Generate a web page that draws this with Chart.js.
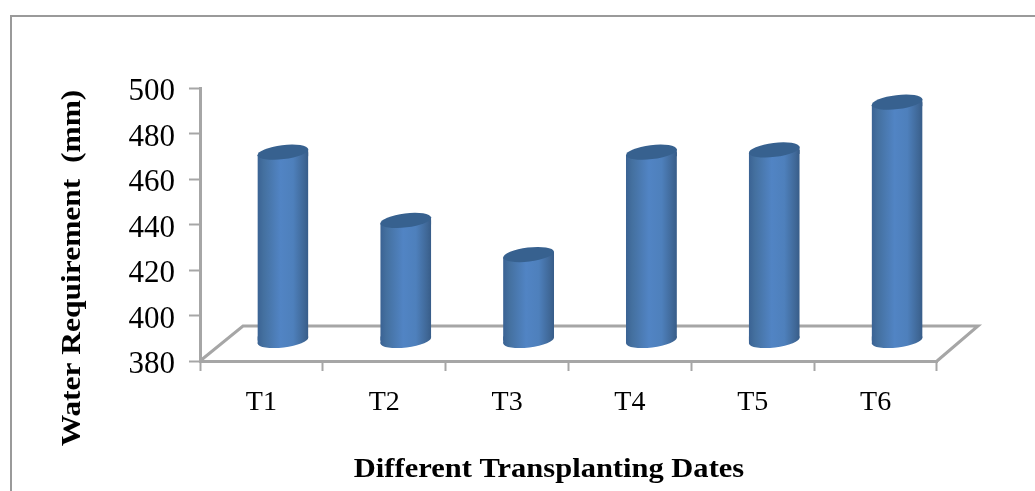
<!DOCTYPE html>
<html>
<head>
<meta charset="utf-8">
<title>Water Requirement</title>
<script src="https://cdn.jsdelivr.net/npm/chart.js@4"></script>
<style>
  html, body { margin: 0; padding: 0; background: #fff; }
  #box { width: 1035px; height: 491px; overflow: hidden; }
  canvas { filter: blur(0.5px); }
</style>
</head>
<body>
<div id="box"><canvas id="aguaChart" width="1035" height="491"></canvas></div>
<script>
const categorias = ['T1', 'T2', 'T3', 'T4', 'T5', 'T6'];
const valores = [463, 433, 418, 463, 464, 485];
const minimo = 380, maximo = 500, paso = 20;
const tituloX = 'Different Transplanting Dates';
const tituloY = 'Water Requirement  (mm)';

const gris = '#a6a6a6';
const anchoBarra = 0.415;
const fondoX = 21.5, fondoY = 20; // desplazamiento de los cilindros hacia el fondo
const pisoX = 41, pisoY = 35; // profundidad del piso 3D
const giro = -0.12; // inclinacion de las elipses

function gradienteBarra(ctx, x, ancho) {
  const g = ctx.createLinearGradient(x - ancho / 2, 0, x + ancho / 2, 0);
  g.addColorStop(0, '#3a6293');
  g.addColorStop(0.12, '#44709f');
  g.addColorStop(0.45, '#5184c4');
  g.addColorStop(0.7, '#4e80bc');
  g.addColorStop(0.92, '#3f6796');
  g.addColorStop(1, '#375c88');
  return g;
}

// Plugin para el efecto 3D: marco, piso, cilindros y titulos
const efecto3d = {
  id: 'efecto3d',
  beforeDraw(chart) {
    const ctx = chart.ctx;
    ctx.save();
    ctx.strokeStyle = '#9a9a9a';
    ctx.lineWidth = 2;
    ctx.beginPath();
    ctx.moveTo(11, 491);
    ctx.lineTo(11, 16);
    ctx.lineTo(1035, 16);
    ctx.stroke();
    ctx.restore();
  },
  beforeDatasetsDraw(chart) {
    const ctx = chart.ctx;
    const { left, right, bottom } = chart.chartArea;
    ctx.save();
    ctx.strokeStyle = gris;
    ctx.lineWidth = 3;
    ctx.beginPath();
    ctx.moveTo(left, bottom);
    ctx.lineTo(left + pisoX + 2, bottom - pisoY);
    ctx.lineTo(right + pisoX, bottom - pisoY);
    ctx.lineTo(right, bottom);
    ctx.stroke();
    ctx.restore();

    // base de cada cilindro, luego las barras quedan movidas hacia el fondo
    const barras = chart.getDatasetMeta(0).data;
    ctx.save();
    ctx.translate(fondoX, -fondoY);
    barras.forEach(bar => {
      ctx.fillStyle = gradienteBarra(ctx, bar.x, bar.width);
      ctx.beginPath();
      ctx.ellipse(bar.x, bar.base, bar.width / 2, 7, giro, 0, Math.PI * 2);
      ctx.fill();
    });
    // recorte inclinado para que las esquinas de la barra no salgan de la elipse
    ctx.save();
    ctx.beginPath();
    barras.forEach(bar => {
      const k = (bar.width / 2) * Math.tan(-giro);
      ctx.moveTo(bar.x - bar.width / 2, bar.y + k);
      ctx.lineTo(bar.x + bar.width / 2, bar.y - k);
      ctx.lineTo(bar.x + bar.width / 2, bar.base - k);
      ctx.lineTo(bar.x - bar.width / 2, bar.base + k);
      ctx.closePath();
    });
    ctx.clip();
    // franjas que completan las puntas de arriba y de abajo
    barras.forEach(bar => {
      const k = (bar.width / 2) * Math.tan(-giro) + 1;
      ctx.fillStyle = gradienteBarra(ctx, bar.x, bar.width);
      ctx.fillRect(bar.x - bar.width / 2, bar.y - k, bar.width, k * 2);
      ctx.fillRect(bar.x - bar.width / 2, bar.base - k, bar.width, k * 2);
    });
  },
  afterDatasetsDraw(chart) {
    const ctx = chart.ctx;
    ctx.restore();
    chart.getDatasetMeta(0).data.forEach(bar => {
      ctx.fillStyle = '#37618f';
      ctx.beginPath();
      ctx.ellipse(bar.x, bar.y, bar.width / 2, 7, giro, 0, Math.PI * 2);
      ctx.fill();
    });
    ctx.restore();
  },
  afterDraw(chart) {
    const ctx = chart.ctx;
    ctx.save();
    ctx.fillStyle = '#000';
    ctx.textAlign = 'center';
    ctx.textBaseline = 'middle';
    ctx.font = 'bold 27px "Liberation Serif"';
    ctx.save();
    ctx.translate(549, 470);
    ctx.scale(1.13, 1);
    ctx.fillText(tituloX, 0, 0);
    ctx.restore();
    ctx.translate(73, 268);
    ctx.rotate(-Math.PI / 2);
    ctx.scale(1.165, 1);
    ctx.fillText(tituloY, 0, 0);
    ctx.restore();
  }
};

const ctx = document.getElementById('aguaChart').getContext('2d');

new Chart(ctx, {
  type: 'bar',
  data: {
    labels: categorias,
    datasets: [{
      data: valores,
      base: minimo,
      barPercentage: anchoBarra,
      categoryPercentage: 1,
      clip: false,
      backgroundColor: c => {
        const escala = c.chart.scales.x;
        const centro = escala ? escala.getPixelForValue(c.dataIndex) : NaN;
        if (!Number.isFinite(centro) || !escala.width) return '#4f81bd';
        return gradienteBarra(c.chart.ctx, centro, (escala.width / categorias.length) * anchoBarra);
      }
    }]
  },
  options: {
    responsive: false,
    animation: false,
    layout: { padding: { top: 88, right: 98, left: 0, bottom: 0 } },
    plugins: { legend: { display: false }, tooltip: { enabled: false } },
    scales: {
      x: {
        afterFit: s => { s.height = 130; },
        grid: { drawOnChartArea: false, tickLength: 10, tickWidth: 2, color: gris },
        border: { color: gris, width: 3 },
        ticks: { color: '#000', padding: 15, font: { family: 'Liberation Serif', size: 28 } }
      },
      y: {
        min: minimo,
        max: maximo,
        afterFit: s => { s.width = 200; },
        grid: { drawOnChartArea: false, tickLength: 11, tickWidth: 2, color: gris },
        border: { color: gris, width: 3 },
        ticks: { stepSize: paso, color: '#000', padding: 14, labelOffset: 4, font: { family: 'Liberation Serif', size: 31 } }
      }
    }
  },
  plugins: [efecto3d]
});
</script>
</body>
</html>
